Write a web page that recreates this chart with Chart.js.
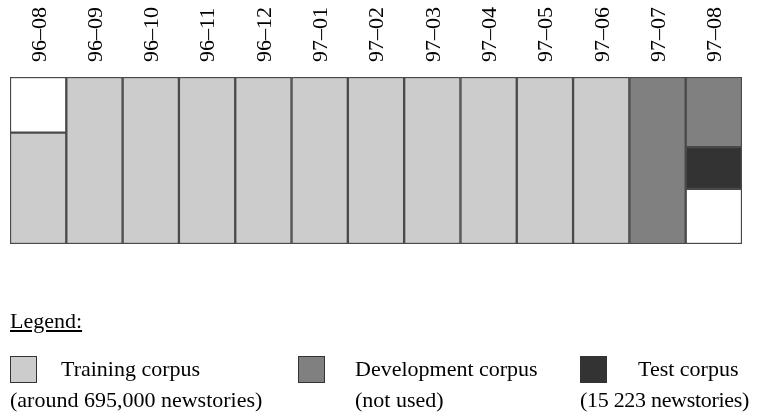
<!DOCTYPE html>
<html>
<head>
<meta charset="utf-8">
<script src="https://cdn.jsdelivr.net/npm/chart.js@4/dist/chart.umd.min.js"></script>
<style>
  html, body { margin: 0; padding: 0; background: #fff; }
  #wrap { position: relative; width: 758px; height: 415px; overflow: hidden; }
  canvas { position: absolute; left: 0; top: 0; }
  .t { position: absolute; font-family: "Liberation Serif", "Times New Roman", serif; font-size: 22px; line-height: 22px; color: #000; white-space: nowrap; }
  .box { position: absolute; width: 27px; height: 27px; box-sizing: border-box; border: 1px solid #333; }
</style>
</head>
<body>
<div id="wrap">
  <canvas id="c" width="758" height="415"></canvas>
  <div class="t" style="left:10px; top:310px; text-decoration: underline;">Legend:</div>
  <div class="box" style="left:10px; top:356px; background:#cccccc;"></div>
  <div class="t" style="left:61px; top:358px;">Training corpus</div>
  <div class="t" style="left:10px; top:389px;">(around 695,000 newstories)</div>
  <div class="box" style="left:298px; top:356px; background:#808080;"></div>
  <div class="t" style="left:355px; top:358px;">Development corpus</div>
  <div class="t" style="left:355px; top:389px;">(not used)</div>
  <div class="box" style="left:580px; top:356px; background:#333333;"></div>
  <div class="t" style="left:638px; top:358px;">Test corpus</div>
  <div class="t" style="left:580px; top:389px; letter-spacing:-0.3px;">(15 223 newstories)</div>
</div>
<script>
const months = ["96–08","96–09","96–10","96–11","96–12","97–01","97–02","97–03","97–04","97–05","97–06","97–07","97–08"];
const unusedBottom = [null,null,null,null,null,null,null,null,null,null,null,null,0.33];
const training     = [0.667,1,1,1,1,1,1,1,1,1,1,null,null];
const testCorpus   = [null,null,null,null,null,null,null,null,null,null,null,null,0.25];
const development  = [null,null,null,null,null,null,null,null,null,null,null,1,0.42];
const unusedTop    = [0.333,null,null,null,null,null,null,null,null,null,null,null,null];

const mk = (label, data, color) => ({
  label, data, backgroundColor: color, borderColor: '#4a4a4a', borderWidth: 1.5,
  borderSkipped: false, barPercentage: 1, categoryPercentage: 1
});

new Chart(document.getElementById('c'), {
  type: 'bar',
  data: {
    labels: months,
    datasets: [
      mk('unused', unusedBottom, '#ffffff'),
      mk('Training corpus', training, '#cccccc'),
      mk('Test corpus', testCorpus, '#333333'),
      mk('Development corpus', development, '#808080'),
      mk('unused top', unusedTop, '#ffffff')
    ]
  },
  options: {
    responsive: false,
    animation: false,
    layout: { padding: { left: 10, right: 16, top: 0, bottom: 171 } },
    plugins: { legend: { display: false }, tooltip: { enabled: false } },
    scales: {
      x: {
        position: 'top', stacked: true, offset: true,
        grid: { display: false, drawTicks: false },
        border: { display: false },
        ticks: { minRotation: 90, maxRotation: 90, padding: 15, labelOffset: 28, color: '#000',
                 font: { family: 'Liberation Serif', size: 22 } },
        afterFit: (s) => { s.height = 77; s.paddingLeft = 0; s.paddingRight = 0; }
      },
      y: { stacked: true, min: 0, max: 1, display: false }
    }
  }
});
</script>
</body>
</html>
